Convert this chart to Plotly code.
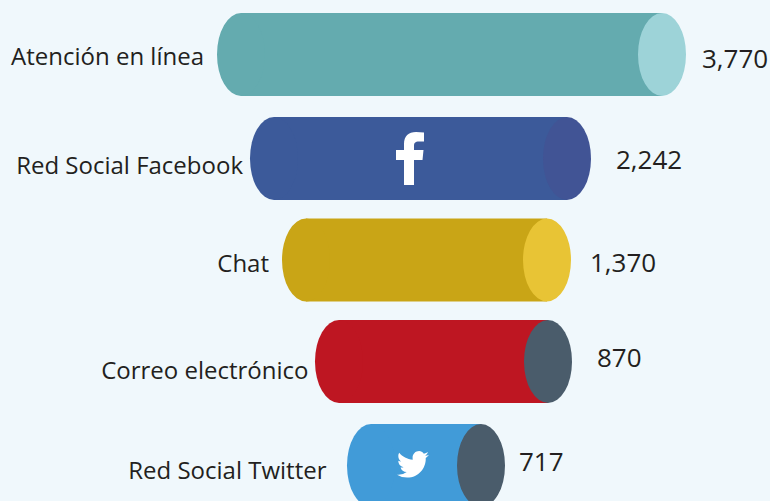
import plotly.graph_objects as go

categories = ["Atención en línea", "Red Social Facebook", "Chat", "Correo electrónico", "Red Social Twitter"]
value_labels = ["3,770", "2,242", "1,370", "870", "717"]

# Cylinder extents (the drawing is not to scale)
bar_left = [217, 250, 282, 315, 347]
bar_right = [686, 591, 571, 572, 505]
bar_center = [54.5, 158.5, 260, 361.5, 465.5]

body_colors = ["#64ABAF", "#3C5A9A", "#C9A516", "#BE1622", "#419BD8"]
cap_colors = ["#9DD3D8", "#415495", "#E8C435", "#4A5C6B", "#4A5C6B"]

cat_right = [204, 243, 269, 308.5, 326.5]
cat_y = [58.5, 167.5, 265.5, 372.5, 472.5]
val_left = [702, 616, 590, 597, 519]
val_y = [61, 162, 265, 360, 464]

RX, RY = 24, 41.5
TEXT = "#231F20"
FONT = "Open Sans"

fig = go.Figure()
fig.add_trace(go.Bar(
    orientation="h",
    y=bar_center,
    base=[l + RX for l in bar_left],
    x=[r - l - 2 * RX for l, r in zip(bar_left, bar_right)],
    width=2 * RY,
    marker=dict(color=body_colors, line=dict(width=0)),
    hoverinfo="skip",
))
fig.add_trace(go.Scatter(
    x=cat_right, y=cat_y, text=categories, mode="text",
    textposition="middle left", textfont=dict(family=FONT, size=24, color=TEXT),
    hoverinfo="skip",
))
fig.add_trace(go.Scatter(
    x=val_left, y=val_y, text=value_labels, mode="text",
    textposition="middle right", textfont=dict(family=FONT, size=26, color=TEXT),
    hoverinfo="skip",
))

shapes = []
for l, r, c, bc, cc in zip(bar_left, bar_right, bar_center, body_colors, cap_colors):
    shapes.append(dict(type="circle", xref="x", yref="y", x0=l, x1=l + 2 * RX,
                       y0=c - RY, y1=c + RY, fillcolor=bc, line=dict(width=0)))
    shapes.append(dict(type="circle", xref="x", yref="y", x0=r - 2 * RX, x1=r,
                       y0=c - RY, y1=c + RY, fillcolor=cc, line=dict(width=0)))

# Facebook glyph
fb = ("M 396 150 H 404 V 144 C 404 136 408.5 132 416 132 L 424 132.5 V 141.5 H 419 "
      "C 415 141.5 414 143 414 146 V 150 H 423.5 L 422.5 160 H 414 V 185 H 404 V 160 H 396 Z")
shapes.append(dict(type="path", xref="x", yref="y", path=fb, fillcolor="#FFFFFF", line=dict(width=0)))

# Twitter glyph, outlined on a 24-unit grid
bird = [
    ("M", 23.95, 4.57), ("Q", 22.6, 5.2, 21.13, 5.35), ("Q", 22.7, 4.4, 23.29, 2.62),
    ("Q", 21.8, 3.5, 20.16, 3.81), ("C", 19.2, 2.6, 17.9, 1.8, 16.62, 1.8),
    ("C", 13.9, 1.8, 11.7, 4.0, 11.7, 6.72), ("Q", 11.7, 7.6, 11.78, 8.29),
    ("C", 7.69, 8.1, 4.07, 6.13, 1.64, 3.16), ("Q", 0.97, 4.3, 0.97, 5.64),
    ("C", 0.97, 7.35, 1.84, 8.85, 3.16, 9.73), ("Q", 1.95, 9.7, 0.93, 9.12),
    ("L", 0.93, 9.18), ("Q", 1.1, 13.1, 4.88, 14.0), ("Q", 3.8, 14.3, 2.67, 14.09),
    ("Q", 3.7, 17.3, 7.27, 17.51), ("Q", 4.6, 19.6, 1.17, 19.61), ("L", 0, 19.54),
    ("Q", 3.4, 21.75, 7.56, 21.75), ("C", 16.61, 21.75, 21.56, 14.26, 21.56, 7.77),
    ("L", 21.54, 7.14), ("Q", 23.0, 6.1, 24, 4.59), ("Z",),
]
BX, BY, BS = 397, 448.6, 1.333
parts = []
for seg in bird:
    coords = seg[1:]
    pts = [f"{BX + BS * coords[i]:.2f} {BY + BS * coords[i + 1]:.2f}" for i in range(0, len(coords), 2)]
    parts.append(seg[0] + " " + " ".join(pts))
shapes.append(dict(type="path", xref="x", yref="y", path=" ".join(parts), fillcolor="#FFFFFF", line=dict(width=0)))

fig.update_layout(
    width=770, height=501,
    margin=dict(l=0, r=0, t=0, b=0),
    paper_bgcolor="#F0F8FC", plot_bgcolor="#F0F8FC",
    showlegend=False,
    xaxis=dict(range=[0, 770], visible=False, fixedrange=True),
    yaxis=dict(range=[501, 0], visible=False, fixedrange=True),
    shapes=shapes,
)
fig.write_html(
    "out.html",
    config=dict(displayModeBar=False),
    post_script="document.body.style.margin='0';document.body.style.overflow='hidden';",
)
